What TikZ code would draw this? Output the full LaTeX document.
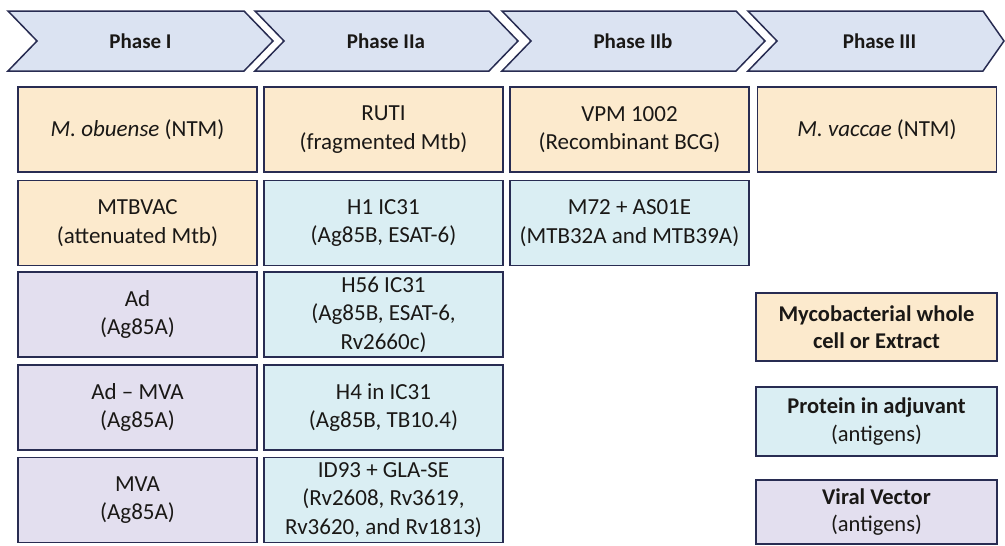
\documentclass[tikz,border=0pt]{standalone}
\usepackage{fontspec}
\setmainfont{Carlito}
\definecolor{edge}{RGB}{40,44,82}
\definecolor{chevfill}{RGB}{219,227,242}
\definecolor{mycofill}{RGB}{252,234,205}
\definecolor{protfill}{RGB}{218,238,243}
\definecolor{viralfill}{RGB}{227,223,239}
\definecolor{ink}{RGB}{26,24,22}
\begin{document}
\begin{tikzpicture}[x=1pt,y=-1pt,
  chevron/.style={draw=edge,fill=chevfill,line width=1.5pt,line join=miter},
  phaselabel/.style={text=ink,font=\fontsize{21}{24}\selectfont\bfseries},
  cell/.style={draw=edge,line width=1.4pt,text=ink,align=center,
    minimum width=239pt,minimum height=85pt,inner sep=0pt,
    font=\fontsize{23}{28.5}\selectfont},
  mycobox/.style={cell,fill=mycofill},
  protbox/.style={cell,fill=protfill},
  viralbox/.style={cell,fill=viralfill},
  keybox/.style={draw=edge,line width=1.4pt,text=ink,align=center,
    minimum width=241pt,inner sep=0pt,font=\fontsize{22.5}{27.5}\selectfont},
]
\useasboundingbox (0,0) rectangle (1005,546);
\fill[white] (0,0) rectangle (1005,546);

% phase chevrons
\draw[chevron] (8,11) -- (244,11) -- (273,41) -- (244,71) -- (8,71) -- (37,41) -- cycle;
\draw[chevron] (255,11) -- (489,11) -- (518,41) -- (489,71) -- (255,71) -- (284,41) -- cycle;
\draw[chevron] (502,11) -- (736,11) -- (765,41) -- (736,71) -- (502,71) -- (531,41) -- cycle;
\draw[chevron] (748,11) -- (983,11) -- (1004,41) -- (983,71) -- (748,71) -- (777,41) -- cycle;
\node[phaselabel] (p1) at (140.5,41) {Phase I};
\node[phaselabel] (p2) at (386,41) {Phase IIa};
\node[phaselabel] (p3) at (633,41) {Phase IIb};
\node[phaselabel] (p4) at (879.5,41) {Phase III};

% Phase I
\node[mycobox]  (a1) at (137.5,129.5) {\textit{M. obuense} (NTM)};
\node[mycobox]  (a2) at (137.5,223)   {MTBVAC\\(attenuated Mtb)};
\node[viralbox] (a3) at (137.5,314.5) {Ad\\(Ag85A)};
\node[viralbox] (a4) at (137.5,407.5) {Ad -- MVA\\(Ag85A)};
\node[viralbox] (a5) at (137.5,500)   {MVA\\(Ag85A)};

% Phase IIa
\node[mycobox] (b1) at (383.5,129.5) {RUTI\\(fragmented Mtb)};
\node[protbox] (b2) at (383.5,223)   {H1 IC31\\(Ag85B, ESAT-6)};
\node[protbox] (b3) at (383.5,314.5) {H56 IC31\\(Ag85B, ESAT-6,\\Rv2660c)};
\node[protbox] (b4) at (383.5,407.5) {H4 in IC31\\(Ag85B, TB10.4)};
\node[protbox] (b5) at (383.5,500)   {ID93 + GLA-SE\\(Rv2608, Rv3619,\\Rv3620, and Rv1813)};

% Phase IIb
\node[mycobox] (c1) at (629.5,129.5) {VPM 1002\\(Recombinant BCG)};
\node[protbox] (c2) at (629.5,223)   {M72 + AS01E\\(MTB32A and MTB39A)};

% Phase III
\node[mycobox] (d1) at (877,129.5) {\textit{M. vaccae} (NTM)};

% key
\node[keybox,fill=mycofill,minimum height=68pt] (k1) at (876.5,327)
  {\textbf{Mycobacterial whole}\\\textbf{cell or Extract}};
\node[keybox,fill=protfill,minimum height=69pt] (k2) at (876.5,421.5)
  {\textbf{Protein in adjuvant}\\(antigens)};
\node[keybox,fill=viralfill,minimum height=64pt] (k3) at (876.5,512)
  {\textbf{Viral Vector}\\(antigens)};
\end{tikzpicture}
\end{document}
